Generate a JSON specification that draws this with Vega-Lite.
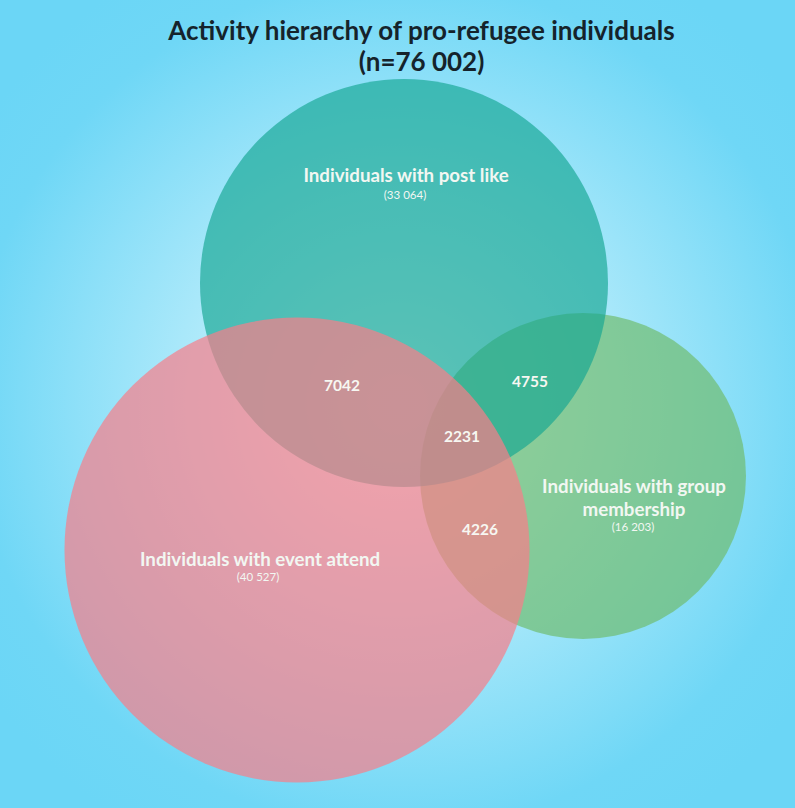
{
  "$schema": "https://vega.github.io/schema/vega-lite/v6.json",
  "width": 795,
  "height": 808,
  "padding": 0,
  "autosize": {"type": "none"},
  "background": "#6bd6f6",
  "config": {
    "view": {
      "stroke": null,
      "fill": {
        "gradient": "radial",
        "x1": 0.5, "y1": 0.5, "r1": 0,
        "x2": 0.5, "y2": 0.5, "r2": 0.62,
        "stops": [
          {"offset": 0, "color": "#e8fafe"},
          {"offset": 0.45, "color": "#a9e8fa"},
          {"offset": 0.85, "color": "#6fd7f6"},
          {"offset": 1, "color": "#6bd6f6"}
        ]
      }
    }
  },
  "title": {
    "text": ["Activity hierarchy of pro-refugee individuals", "(n=76 002)"],
    "font": "Lato",
    "fontSize": 26,
    "fontWeight": "bold",
    "color": "#15232b",
    "anchor": "middle",
    "dx": 24,
    "offset": -76,
    "lineHeight": 31
  },
  "datasets": {
    "circles": [
      {"set": "Individuals with group membership", "count": 16203, "cx": 583, "cy": 476},
      {"set": "Individuals with post like", "count": 33064, "cx": 404, "cy": 283},
      {"set": "Individuals with event attend", "count": 40527, "cx": 297, "cy": 550}
    ],
    "labels": [
      {"role": "name", "text": "Individuals with post like", "x": 406, "y": 176},
      {"role": "count", "text": "(33 064)", "x": 405, "y": 196},
      {"role": "name", "text": "Individuals with event attend", "x": 260, "y": 560},
      {"role": "count", "text": "(40 527)", "x": 258, "y": 578},
      {"role": "name", "text": "Individuals with group\nmembership", "x": 634, "y": 487},
      {"role": "count", "text": "(16 203)", "x": 633, "y": 528},
      {"role": "overlap", "text": "7042", "x": 342, "y": 386},
      {"role": "overlap", "text": "4755", "x": 530, "y": 382},
      {"role": "overlap", "text": "2231", "x": 462, "y": 437},
      {"role": "overlap", "text": "4226", "x": 480, "y": 530}
    ]
  },
  "layer": [
    {
      "data": {"name": "circles"},
      "mark": {"type": "point", "shape": "circle", "filled": true, "strokeWidth": 0},
      "encoding": {
        "x": {"field": "cx", "type": "quantitative", "scale": {"domain": [0, 795], "nice": false, "zero": false}, "axis": null},
        "y": {"field": "cy", "type": "quantitative", "scale": {"domain": [0, 808], "nice": false, "zero": false, "reverse": true}, "axis": null},
        "size": {"field": "count", "type": "quantitative", "scale": {"domain": [16203, 33064, 40527], "range": [106276, 166464, 216225], "zero": false}, "legend": null},
        "color": {
          "field": "set", "type": "nominal",
          "scale": {
            "domain": ["Individuals with post like", "Individuals with group membership", "Individuals with event attend"],
            "range": ["#14a692", "#6ebb6a", "#f87d89"]
          },
          "legend": null
        },
        "opacity": {
          "field": "set", "type": "nominal",
          "scale": {
            "domain": ["Individuals with post like", "Individuals with group membership", "Individuals with event attend"],
            "range": [0.66, 0.7, 0.65]
          },
          "legend": null
        }
      }
    },
    {
      "data": {"name": "labels"},
      "transform": [{"filter": "datum.role === 'name'"}],
      "mark": {"type": "text", "font": "Lato", "fontSize": 18.7, "fontWeight": "bold", "color": "#f2f7f2", "lineBreak": "\n", "lineHeight": 23, "baseline": "middle"},
      "encoding": {
        "x": {"field": "x", "type": "quantitative", "scale": {"domain": [0, 795], "nice": false, "zero": false}, "axis": null},
        "y": {"field": "y", "type": "quantitative", "scale": {"domain": [0, 808], "nice": false, "zero": false, "reverse": true}, "axis": null},
        "text": {"field": "text"}
      }
    },
    {
      "data": {"name": "labels"},
      "transform": [{"filter": "datum.role === 'count'"}],
      "mark": {"type": "text", "font": "Lato", "fontSize": 11.5, "color": "#f2f7f2", "baseline": "middle"},
      "encoding": {
        "x": {"field": "x", "type": "quantitative", "scale": {"domain": [0, 795], "nice": false, "zero": false}, "axis": null},
        "y": {"field": "y", "type": "quantitative", "scale": {"domain": [0, 808], "nice": false, "zero": false, "reverse": true}, "axis": null},
        "text": {"field": "text"}
      }
    },
    {
      "data": {"name": "labels"},
      "transform": [{"filter": "datum.role === 'overlap'"}],
      "mark": {"type": "text", "font": "Lato", "fontSize": 15.5, "fontWeight": "bold", "color": "#f7f7f2", "baseline": "middle"},
      "encoding": {
        "x": {"field": "x", "type": "quantitative", "scale": {"domain": [0, 795], "nice": false, "zero": false}, "axis": null},
        "y": {"field": "y", "type": "quantitative", "scale": {"domain": [0, 808], "nice": false, "zero": false, "reverse": true}, "axis": null},
        "text": {"field": "text"}
      }
    }
  ]
}
